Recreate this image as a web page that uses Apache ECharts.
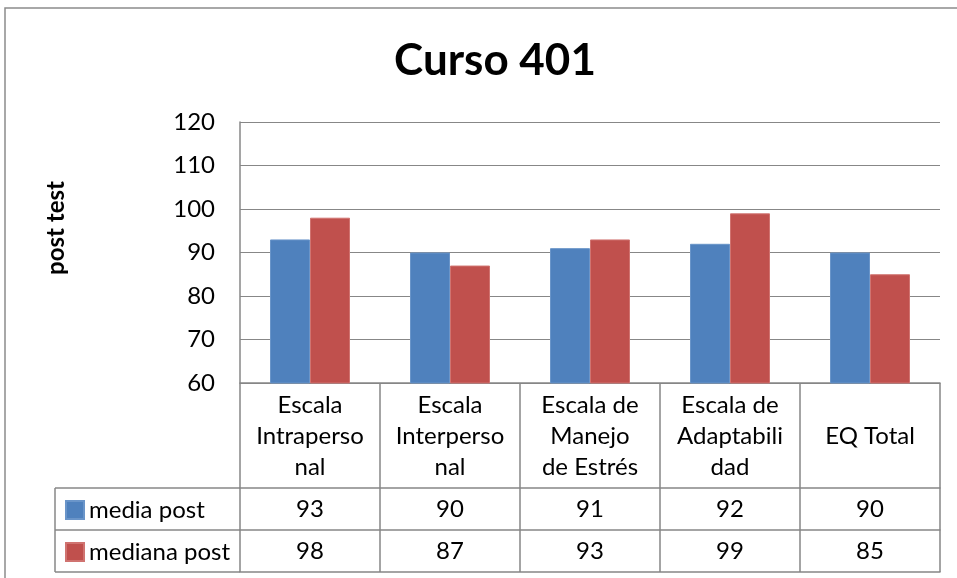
<!DOCTYPE html>
<html>
<head>
<meta charset="utf-8">
<script src="https://cdn.jsdelivr.net/npm/echarts@6/dist/echarts.min.js"></script>
<style>
html, body { margin: 0; padding: 0; background: #fff; }
#chart { width: 957px; height: 578px; }
</style>
</head>
<body>
<div id="chart"></div>
<script>
// categorias (con saltos de linea como en la tabla)
const categories = [
    "Escala\nIntraperso\nnal",
    "Escala\nInterperso\nnal",
    "Escala de\nManejo\nde Estrés",
    "Escala de\nAdaptabili\ndad",
    "\nEQ Total"
];
const mediaPost = [93, 90, 91, 92, 90];
const medianaPost = [98, 87, 93, 99, 85];
const yTicks = { min: 60, max: 120, interval: 10 };

const FONT = "Lato, 'Open Sans', sans-serif";
const GRID_COLOR = "#878787";

const chart = echarts.init(document.getElementById("chart"));

// eje x extra para cada fila de la tabla de datos
function rowAxis(offset, values) {
    return {
        type: "category",
        data: categories,
        position: "bottom",
        offset: offset,
        axisLine: { show: true, lineStyle: { color: GRID_COLOR, width: 1.5 } },
        axisTick: values ? { show: true, length: 42, lineStyle: { color: GRID_COLOR, width: 1.5 } } : { show: false },
        axisLabel: values ? {
            show: true,
            margin: 9,
            fontSize: 24,
            fontFamily: FONT,
            color: "#000",
            formatter: (v, i) => String(values[i])
        } : { show: false },
        splitLine: { show: false }
    };
}

// una leyenda por fila de la tabla
function rowLegend(name, top) {
    return {
        left: 60,
        top: top,
        itemWidth: 18,
        itemHeight: 18,
        icon: "rect",
        textStyle: { fontSize: 24, fontFamily: FONT, color: "#000" },
        data: [name]
    };
}

const option = {
    animation: false,
    title: {
        text: "Curso 401",
        left: 490,
        textAlign: "center",
        top: 34,
        textStyle: { fontSize: 44, fontWeight: "bold", fontFamily: FONT, color: "#000" }
    },
    legend: [
        rowLegend("media post", 493),
        rowLegend("mediana post", 535)
    ],
    grid: { left: 240, right: 17, top: 122, bottom: 195 },
    xAxis: [
        {
            type: "category",
            data: categories,
            position: "bottom",
            axisLine: { show: true, lineStyle: { color: GRID_COLOR, width: 1.5 } },
            axisTick: { show: true, length: 105, lineStyle: { color: GRID_COLOR, width: 1.5 } },
            axisLabel: {
                margin: 7,
                fontSize: 24,
                lineHeight: 31,
                fontFamily: FONT,
                color: "#000",
                interval: 0
            }
        },
        rowAxis(105, mediaPost),
        rowAxis(147, medianaPost),
        rowAxis(189, null)
    ],
    yAxis: {
        type: "value",
        min: yTicks.min,
        max: yTicks.max,
        interval: yTicks.interval,
        axisLine: { show: true, lineStyle: { color: GRID_COLOR, width: 1.5 } },
        axisTick: { show: false },
        axisLabel: { margin: 25, fontSize: 24, fontFamily: FONT, color: "#000" },
        splitLine: { show: true, lineStyle: { color: GRID_COLOR, width: 1.2 } }
    },
    graphic: [
        // marco exterior del grafico
        { type: "rect", shape: { x: 5, y: 8, width: 1000, height: 700 }, style: { fill: null, stroke: "#8c8c8c", lineWidth: 1.5 }, silent: true },
        // titulo del eje y
        {
            type: "text",
            x: 56, y: 228,
            rotation: Math.PI / 2,
            style: {
                text: "post test",
                fontSize: 24,
                fontWeight: "bold",
                fontFamily: FONT,
                fill: "#000",
                align: "center",
                verticalAlign: "middle"
            }
        },
        // columna de leyenda de la tabla
        { type: "line", shape: { x1: 55, y1: 488, x2: 240, y2: 488 }, style: { stroke: GRID_COLOR, lineWidth: 1.5 } },
        { type: "line", shape: { x1: 55, y1: 530, x2: 240, y2: 530 }, style: { stroke: GRID_COLOR, lineWidth: 1.5 } },
        { type: "line", shape: { x1: 55, y1: 572, x2: 240, y2: 572 }, style: { stroke: GRID_COLOR, lineWidth: 1.5 } },
        { type: "line", shape: { x1: 55, y1: 488, x2: 55, y2: 572 }, style: { stroke: GRID_COLOR, lineWidth: 1.5 } }
    ],
    series: [
        {
            name: "media post",
            type: "bar",
            data: mediaPost,
            barWidth: 40,
            barGap: "0%",
            itemStyle: { color: "#4F81BD", borderColor: "#6a95c9", borderWidth: 1 }
        },
        {
            name: "mediana post",
            type: "bar",
            data: medianaPost,
            barWidth: 40,
            barGap: "0%",
            itemStyle: { color: "#C0504D", borderColor: "#d07370", borderWidth: 1 }
        }
    ]
};

chart.setOption(option);
</script>
</body>
</html>
